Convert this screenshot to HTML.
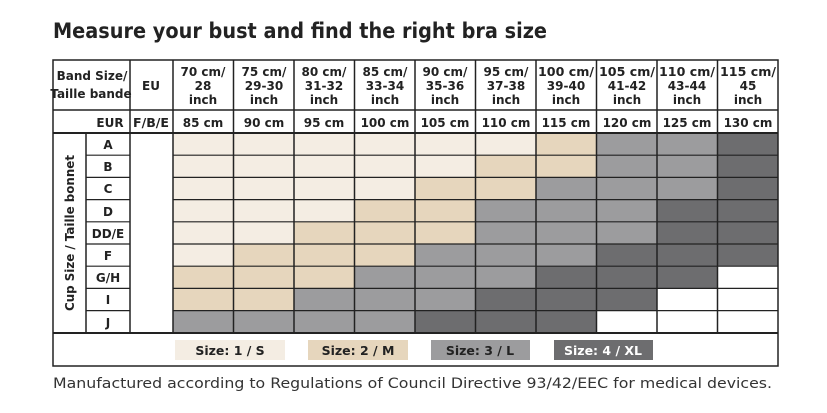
<!DOCTYPE html>
<html><head><meta charset="utf-8"><style>
html,body{margin:0;padding:0;background:#fff;}
svg{display:block;}
text{font-family:"DejaVu Sans","Liberation Sans",sans-serif;fill:#222;}
.b{font-weight:bold;}
</style></head><body>
<svg width="827" height="413" viewBox="0 0 827 413" xmlns="http://www.w3.org/2000/svg">
<text x="53" y="38" class="b" font-size="21" textLength="494" lengthAdjust="spacingAndGlyphs">Measure your bust and find the right bra size</text>

<defs>
<rect id="c1" width="60.5" height="22.2" fill="#f4ede3"/>
<rect id="c2" width="60.5" height="22.2" fill="#e6d6bd"/>
<rect id="c3" width="60.5" height="22.2" fill="#9c9c9e"/>
<rect id="c4" width="60.5" height="22.2" fill="#6d6d6f"/>
</defs>
<!-- A -->
<g transform="translate(0,133)">
<use href="#c1" x="173"/><use href="#c1" x="233.5"/><use href="#c1" x="294"/><use href="#c1" x="354.5"/><use href="#c1" x="415"/><use href="#c1" x="475.5"/><use href="#c2" x="536"/><use href="#c3" x="596.5"/><use href="#c3" x="657"/><use href="#c4" x="717.5"/></g>
<g transform="translate(0,155.2)">
<use href="#c1" x="173"/><use href="#c1" x="233.5"/><use href="#c1" x="294"/><use href="#c1" x="354.5"/><use href="#c1" x="415"/><use href="#c2" x="475.5"/><use href="#c2" x="536"/><use href="#c3" x="596.5"/><use href="#c3" x="657"/><use href="#c4" x="717.5"/></g>
<g transform="translate(0,177.4)">
<use href="#c1" x="173"/><use href="#c1" x="233.5"/><use href="#c1" x="294"/><use href="#c1" x="354.5"/><use href="#c2" x="415"/><use href="#c2" x="475.5"/><use href="#c3" x="536"/><use href="#c3" x="596.5"/><use href="#c3" x="657"/><use href="#c4" x="717.5"/></g>
<g transform="translate(0,199.6)">
<use href="#c1" x="173"/><use href="#c1" x="233.5"/><use href="#c1" x="294"/><use href="#c2" x="354.5"/><use href="#c2" x="415"/><use href="#c3" x="475.5"/><use href="#c3" x="536"/><use href="#c3" x="596.5"/><use href="#c4" x="657"/><use href="#c4" x="717.5"/></g>
<g transform="translate(0,221.8)">
<use href="#c1" x="173"/><use href="#c1" x="233.5"/><use href="#c2" x="294"/><use href="#c2" x="354.5"/><use href="#c2" x="415"/><use href="#c3" x="475.5"/><use href="#c3" x="536"/><use href="#c3" x="596.5"/><use href="#c4" x="657"/><use href="#c4" x="717.5"/></g>
<g transform="translate(0,244)">
<use href="#c1" x="173"/><use href="#c2" x="233.5"/><use href="#c2" x="294"/><use href="#c2" x="354.5"/><use href="#c3" x="415"/><use href="#c3" x="475.5"/><use href="#c3" x="536"/><use href="#c4" x="596.5"/><use href="#c4" x="657"/><use href="#c4" x="717.5"/></g>
<g transform="translate(0,266.2)">
<use href="#c2" x="173"/><use href="#c2" x="233.5"/><use href="#c2" x="294"/><use href="#c3" x="354.5"/><use href="#c3" x="415"/><use href="#c3" x="475.5"/><use href="#c4" x="536"/><use href="#c4" x="596.5"/><use href="#c4" x="657"/></g>
<g transform="translate(0,288.4)">
<use href="#c2" x="173"/><use href="#c2" x="233.5"/><use href="#c3" x="294"/><use href="#c3" x="354.5"/><use href="#c3" x="415"/><use href="#c4" x="475.5"/><use href="#c4" x="536"/><use href="#c4" x="596.5"/></g>
<g transform="translate(0,310.6)">
<use href="#c3" x="173"/><use href="#c3" x="233.5"/><use href="#c3" x="294"/><use href="#c3" x="354.5"/><use href="#c4" x="415"/><use href="#c4" x="475.5"/><use href="#c4" x="536"/></g>

<!-- grid -->
<g stroke="#222" stroke-width="1.5" fill="none">
<rect x="53" y="60" width="725" height="306"/>
<line x1="53" y1="110" x2="778" y2="110"/>
<line x1="53" y1="133" x2="778" y2="133" stroke-width="2"/>
<line x1="53" y1="333" x2="778" y2="333" stroke-width="2"/>
<line x1="86" y1="133" x2="86" y2="333"/>
<line x1="130" y1="60" x2="130" y2="333"/>
<line x1="173" y1="60" x2="173" y2="333"/>
<line x1="233.5" y1="60" x2="233.5" y2="333"/>
<line x1="294" y1="60" x2="294" y2="333"/>
<line x1="354.5" y1="60" x2="354.5" y2="333"/>
<line x1="415" y1="60" x2="415" y2="333"/>
<line x1="475.5" y1="60" x2="475.5" y2="333"/>
<line x1="536" y1="60" x2="536" y2="333"/>
<line x1="596.5" y1="60" x2="596.5" y2="333"/>
<line x1="657" y1="60" x2="657" y2="333"/>
<line x1="717.5" y1="60" x2="717.5" y2="333"/>
<g stroke-width="1.2">
<line x1="86" y1="155.2" x2="130" y2="155.2"/><line x1="173" y1="155.2" x2="778" y2="155.2"/>
<line x1="86" y1="177.4" x2="130" y2="177.4"/><line x1="173" y1="177.4" x2="778" y2="177.4"/>
<line x1="86" y1="199.6" x2="130" y2="199.6"/><line x1="173" y1="199.6" x2="778" y2="199.6"/>
<line x1="86" y1="221.8" x2="130" y2="221.8"/><line x1="173" y1="221.8" x2="778" y2="221.8"/>
<line x1="86" y1="244" x2="130" y2="244"/><line x1="173" y1="244" x2="778" y2="244"/>
<line x1="86" y1="266.2" x2="130" y2="266.2"/><line x1="173" y1="266.2" x2="778" y2="266.2"/>
<line x1="86" y1="288.4" x2="130" y2="288.4"/><line x1="173" y1="288.4" x2="778" y2="288.4"/>
<line x1="86" y1="310.6" x2="130" y2="310.6"/><line x1="173" y1="310.6" x2="778" y2="310.6"/>
</g>
</g>

<!-- header text -->
<g class="b" font-size="12" text-anchor="middle">
<text x="92" y="80">Band Size/</text>
<text x="91" y="98">Taille bande</text>
<text x="151" y="90">EU</text>
<g>
<text x="203" y="76">70 cm/</text><text x="203" y="90">28</text><text x="203" y="104">inch</text>
<text x="264" y="76">75 cm/</text><text x="264" y="90">29-30</text><text x="264" y="104">inch</text>
<text x="324" y="76">80 cm/</text><text x="324" y="90">31-32</text><text x="324" y="104">inch</text>
<text x="385" y="76">85 cm/</text><text x="385" y="90">33-34</text><text x="385" y="104">inch</text>
<text x="445" y="76">90 cm/</text><text x="445" y="90">35-36</text><text x="445" y="104">inch</text>
<text x="506" y="76">95 cm/</text><text x="506" y="90">37-38</text><text x="506" y="104">inch</text>
<text x="566" y="76" textLength="56" lengthAdjust="spacingAndGlyphs">100 cm/</text><text x="566" y="90">39-40</text><text x="566" y="104">inch</text>
<text x="627" y="76" textLength="56" lengthAdjust="spacingAndGlyphs">105 cm/</text><text x="627" y="90">41-42</text><text x="627" y="104">inch</text>
<text x="687" y="76" textLength="56" lengthAdjust="spacingAndGlyphs">110 cm/</text><text x="687" y="90">43-44</text><text x="687" y="104">inch</text>
<text x="748" y="76" textLength="56" lengthAdjust="spacingAndGlyphs">115 cm/</text><text x="748" y="90">45</text><text x="748" y="104">inch</text>
</g>
<text x="110" y="127">EUR</text>
<text x="151" y="127" textLength="36" lengthAdjust="spacingAndGlyphs">F/B/E</text>
<text x="203" y="127">85 cm</text>
<text x="264" y="127">90 cm</text>
<text x="324" y="127">95 cm</text>
<text x="385" y="127">100 cm</text>
<text x="445" y="127">105 cm</text>
<text x="506" y="127">110 cm</text>
<text x="566" y="127">115 cm</text>
<text x="627" y="127">120 cm</text>
<text x="687" y="127">125 cm</text>
<text x="748" y="127">130 cm</text>
<text x="108" y="149">A</text>
<text x="108" y="171">B</text>
<text x="108" y="193">C</text>
<text x="108" y="216">D</text>
<text x="108" y="238">DD/E</text>
<text x="108" y="260">F</text>
<text x="108" y="282">G/H</text>
<text x="108" y="304">I</text>
<text x="108" y="327">J</text>
<text transform="translate(74,233) rotate(-90)" textLength="156" lengthAdjust="spacingAndGlyphs">Cup Size / Taille bonnet</text>
</g>

<!-- legend -->
<rect x="175" y="340" width="110" height="20" fill="#f4ede3"/>
<rect x="308" y="340" width="100" height="20" fill="#e6d6bd"/>
<rect x="431" y="340" width="99" height="20" fill="#9c9c9e"/>
<rect x="554" y="340" width="99" height="20" fill="#6d6d6f"/>
<g class="b" font-size="12.5" text-anchor="middle">
<text x="230" y="355">Size: 1 / S</text>
<text x="358" y="355">Size: 2 / M</text>
<text x="480" y="355">Size: 3 / L</text>
<text x="603" y="355" style="fill:#fff">Size: 4 / XL</text>
</g>

<text x="53" y="388" font-size="14.5" style="fill:#333" textLength="719" lengthAdjust="spacingAndGlyphs">Manufactured according to Regulations of Council Directive 93/42/EEC for medical devices.</text>
</svg>
</body></html>
